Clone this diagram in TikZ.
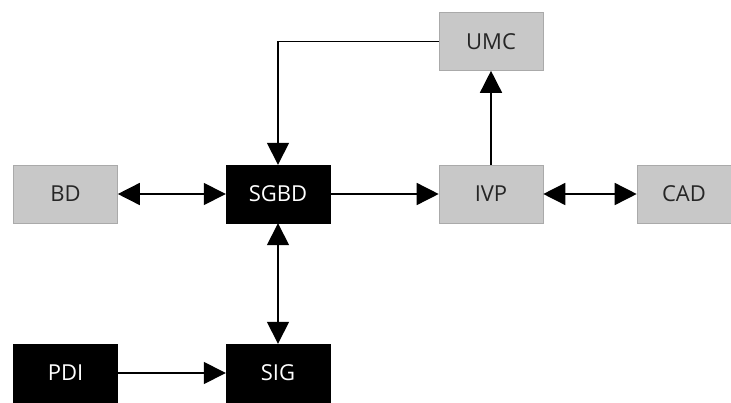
\documentclass[tikz,border=0pt]{standalone}
\usepackage{fontspec}
\setmainfont{Open Sans}
\usetikzlibrary{arrows.meta}
\definecolor{boxgrey}{RGB}{200,200,200}
\definecolor{edgegrey}{RGB}{170,170,170}
\tikzstyle{gb}=[shape=rectangle,fill=boxgrey,draw=edgegrey,line width=0.6pt,minimum width=104pt,minimum height=58pt,inner sep=0pt,font=\fontsize{22}{25}\selectfont,text=black!85]
\tikzstyle{bb}=[shape=rectangle,fill=black,draw=black,minimum width=104pt,minimum height=58pt,inner sep=0pt,font=\fontsize{22}{25}\selectfont,text=white]
\tikzstyle{to}=[-{Triangle[length=22pt,width=22pt]},line width=1.5pt]
\tikzstyle{both}=[{Triangle[length=22pt,width=22pt]}-{Triangle[length=22pt,width=22pt]},line width=1.5pt]
\begin{document}
\begin{tikzpicture}[x=1pt,y=-1pt]
            \useasboundingbox (0,0) rectangle (731,402);
            \node[gb] (UMC) at (491, 41.5) {UMC}
            ;
            \node[gb] (BD) at (65.5, 194) {BD}
            ;
            \node[bb] (SGBD) at (278, 194) {SGBD}
            ;
            \node[gb] (IVP) at (491, 194) {IVP}
            ;
            \node[gb, minimum width=94pt] (CAD) at (684, 194) {CAD}
            ;
            \node[bb] (PDI) at (65.5, 373) {PDI}
            ;
            \node[bb] (SIG) at (278, 373) {SIG}
            ;
            \draw[both] (BD) -- (SGBD);
            \draw[to] (SGBD) -- (IVP);
            \draw[both] (IVP) -- (CAD);
            \draw[to] (IVP) -- (UMC);
            \draw[to] (UMC.west) -| (SGBD.north);
            \draw[both] (SGBD) -- (SIG);
            \draw[to] (PDI) -- (SIG);
        \end{tikzpicture}
\end{document}
